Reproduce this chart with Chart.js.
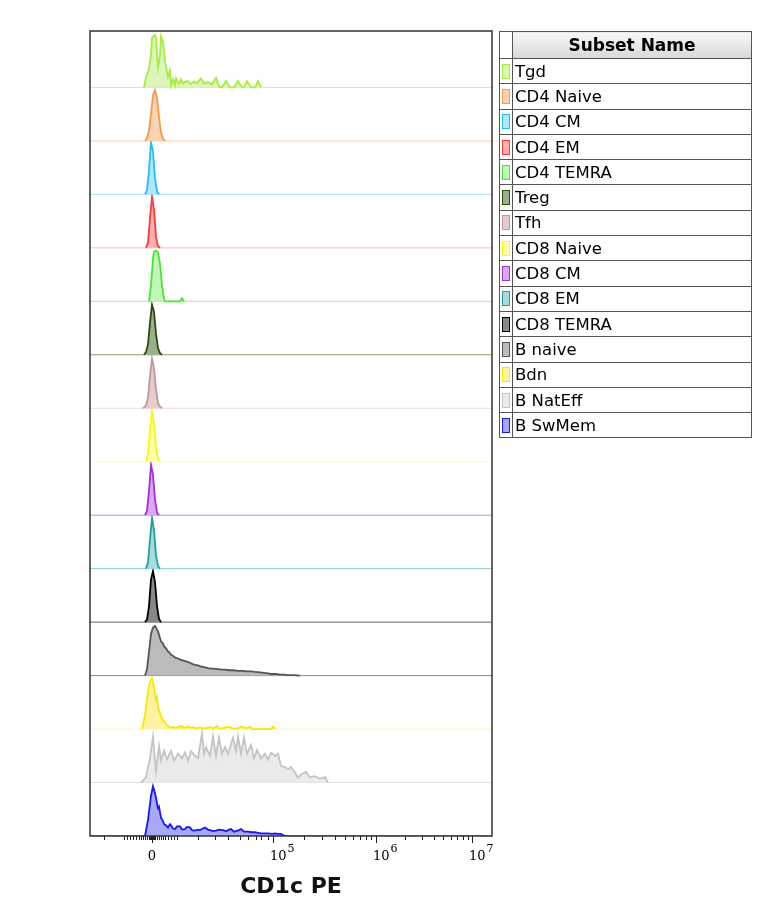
<!DOCTYPE html>
<html>
<head>
<meta charset="utf-8">
<script src="https://cdn.jsdelivr.net/npm/chart.js@4.4.1/dist/chart.umd.min.js"></script>
<style>
  body { margin: 0; background: #fff; width: 768px; height: 910px; position: relative; overflow: hidden; font-family: "DejaVu Sans", Verdana, sans-serif; }
  #wrap { position: absolute; left: 0; top: 0; width: 500px; height: 910px; }
  table.legend { position: absolute; left: 499px; top: 31px; width: 253px; border-collapse: collapse; }
  table.legend td, table.legend th { border: 1px solid #555; padding: 0; }
  table.legend th { height: 26px; font-size: 17px; font-weight: bold; color: #000; background: linear-gradient(#f8f8f8, #d8d8d8); }
  table.legend th.blank { background: #fff; width: 12px; }
  table.legend td { height: 24.3px; font-size: 16.5px; color: #000; padding-left: 2px; white-space: nowrap; }
  table.legend td.sw { padding-left: 2px; width: 10px; }
  .swatch { width: 6px; height: 13px; border: 1px solid #333; }
</style>
</head>
<body>
<div id="wrap"><canvas id="histChart" width="500" height="910"></canvas></div>
<table class="legend" id="legend">
  <tr><th class="blank"></th><th>Subset Name</th></tr>
</table>
<script>
// --- DATOS (eje x en unidades de display biexponencial, 0 = valor cero) ---
const subsetNames = ['Tgd', 'CD4 Naive', 'CD4 CM', 'CD4 EM', 'CD4 TEMRA', 'Treg', 'Tfh',
  'CD8 Naive', 'CD8 CM', 'CD8 EM', 'CD8 TEMRA', 'B naive', 'Bdn', 'B NatEff', 'B SwMem'];

const xTickValues = [0, 121, 224, 320];
const xTickBases = ['0', '10', '10', '10'];
const xTickExps = ['', '5', '6', '7'];
const xMinorTicks = [-48, -28, -25, -22, -19, -16, -13, -11, -9, -7, -5, -3, -2, -1, 1, 2, 3, 5, 7, 9, 11, 13, 16, 19, 22, 25,
  46, 63, 76, 88, 96, 104, 109, 116, 152, 170, 183, 193, 201, 208, 214, 219, 253, 270, 282, 291, 299, 305, 311, 316];

// histogramas: [posición, altura normalizada]
const tgd = [[-8,0],[-6,0.19],[-3,0.34],[-1,0.62],[0,0.93],[3,0.98],[4,0.93],[6,0.37],[8,0.6],[9,0.96],[11,0.85],[13,0.5],[14,0.4],[16,0.2],[18,0.32],[19,0.04],[21,0.16],[23,0.04],[24,0.17],[27,0.07],[29,0.15],[31,0.07],[33,0.1],[36,0.12],[39,0.06],[42,0.11],[45,0.08],[49,0.17],[52,0.07],[56,0.1],[60,0.06],[64,0.18],[67,0.02],[70,0],[74,0.12],[78,0],[82,0],[86,0.12],[90,0],[92,0],[95,0.12],[99,0],[103,0],[106,0.12],[109,0]];
const cd4Naive = [[-7,0],[-5,0.05],[-3,0.2],[-1,0.5],[1,0.85],[3,0.95],[5,0.8],[7,0.45],[9,0.15],[11,0.04],[13,0]];
const cd4CM = [[-7,0],[-5,0.08],[-3,0.45],[-1,0.97],[1,0.8],[3,0.3],[5,0.05],[7,0]];
const cd4EM = [[-6,0],[-4,0.1],[-2,0.55],[0,0.96],[2,0.7],[4,0.2],[6,0.03],[8,0]];
const cd4Temra = [[-3,0],[-1,0.3],[1,0.8],[2,0.93],[4,0.95],[6,0.92],[8,0.7],[10,0.3],[12,0.05],[13,0],[28,0],[30,0.06],[32,0]];
const treg = [[-8,0],[-6,0.05],[-4,0.2],[-2,0.6],[0,0.94],[2,0.8],[4,0.4],[6,0.12],[8,0.03],[10,0]];
const tfh = [[-9,0],[-6,0.05],[-4,0.2],[-2,0.6],[0,0.93],[2,0.75],[4,0.35],[6,0.1],[8,0.03],[10,0]];
const cd8Naive = [[-6,0],[-4,0.15],[-2,0.6],[0,0.95],[2,0.7],[4,0.25],[6,0.05],[8,0]];
const cd8CM = [[-7,0],[-5,0.08],[-3,0.45],[-1,0.94],[1,0.75],[3,0.3],[5,0.05],[7,0]];
const cd8EM = [[-6,0],[-4,0.12],[-2,0.55],[0,0.95],[2,0.72],[4,0.25],[6,0.05],[8,0]];
const cd8Temra = [[-7,0],[-5,0.05],[-3,0.3],[-1,0.8],[1,0.95],[3,0.75],[5,0.3],[7,0.06],[9,0]];
const bNaive = [[-7,0],[-5,0.12],[-3,0.45],[-1,0.78],[1,0.9],[3,0.93],[5,0.86],[6,0.83],[8,0.7],[9,0.64],[11,0.6],[12,0.55],[14,0.51],[16,0.45],[17,0.44],[19,0.39],[21,0.37],[22,0.35],[24,0.33],[26,0.32],[28,0.3],[30,0.29],[33,0.27],[35,0.26],[38,0.24],[40,0.22],[43,0.2],[46,0.19],[49,0.17],[52,0.16],[56,0.14],[59,0.13],[62,0.13],[66,0.12],[69,0.11],[73,0.11],[77,0.1],[81,0.1],[86,0.09],[90,0.09],[95,0.08],[99,0.08],[103,0.07],[108,0.06],[112,0.05],[116,0.04],[119,0.03],[124,0.03],[128,0.02],[132,0.02],[136,0.01],[142,0.01],[148,0]];
const bdn = [[-10,0],[-7,0.26],[-4,0.7],[-2,0.88],[0,0.95],[2,0.78],[4,0.55],[5,0.6],[6,0.4],[8,0.3],[9,0.25],[11,0.17],[13,0.12],[15,0.07],[17,0.05],[19,0.02],[21,0.04],[23,0.02],[26,0.03],[28,0.06],[30,0.03],[31,0.05],[33,0.02],[36,0.05],[38,0.02],[41,0.04],[44,0.01],[48,0.03],[52,0.01],[55,0.02],[58,0.04],[61,0.01],[63,0.03],[65,0.06],[67,0.01],[72,0.02],[75,0.04],[78,0.04],[80,0.01],[86,0.01],[89,0.04],[91,0.04],[94,0.01],[98,0.04],[100,0],[119,0],[121,0.05],[123,0]];
const bNatEff = [[-11,0],[-6,0.1],[-2,0.46],[1,0.86],[4,0.21],[7,0.68],[9,0.41],[12,0.59],[15,0.43],[19,0.59],[22,0.41],[26,0.54],[30,0.45],[33,0.56],[36,0.41],[39,0.59],[43,0.5],[46,0.46],[50,0.92],[52,0.54],[54,0.66],[58,0.5],[61,0.86],[64,0.5],[67,0.84],[70,0.54],[73,0.66],[76,0.54],[81,0.84],[84,0.59],[86,0.86],[89,0.54],[92,0.84],[95,0.54],[99,0.7],[102,0.45],[105,0.61],[109,0.45],[113,0.54],[116,0.43],[119,0.56],[123,0.5],[126,0.54],[129,0.31],[133,0.29],[136,0.25],[139,0.29],[143,0.19],[146,0.09],[149,0.15],[154,0.2],[158,0.1],[163,0.12],[168,0.07],[173,0.1],[176,0]];
const bSwMem = [[-7,0],[-4,0.3],[-1,0.75],[1,0.93],[3,0.8],[4,0.71],[6,0.52],[7,0.55],[9,0.34],[11,0.28],[12,0.22],[14,0.2],[16,0.16],[18,0.22],[19,0.2],[21,0.14],[23,0.13],[25,0.18],[28,0.18],[30,0.12],[33,0.13],[35,0.17],[38,0.16],[40,0.11],[43,0.1],[46,0.12],[48,0.11],[51,0.14],[53,0.16],[56,0.12],[58,0.11],[61,0.09],[64,0.1],[67,0.12],[71,0.11],[74,0.09],[77,0.12],[79,0.13],[82,0.08],[84,0.09],[87,0.11],[89,0.13],[92,0.08],[96,0.08],[100,0.07],[103,0.07],[106,0.06],[109,0.05],[113,0.05],[116,0.05],[120,0.04],[123,0.05],[126,0.04],[129,0.04],[131,0.02],[133,0]];

const histograms = [tgd, cd4Naive, cd4CM, cd4EM, cd4Temra, treg, tfh, cd8Naive, cd8CM, cd8EM, cd8Temra, bNaive, bdn, bNatEff, bSwMem];

// colores: contorno, relleno, línea base
const lineColors = ['#a8ec40', '#f59a4a', '#22c0f0', '#ff3838', '#44e830', '#2a4a10', '#c09898', '#f8f810', '#a030e0', '#20a0a0', '#000000', '#555555', '#f8e800', '#c4c4c4', '#1818f0'];
const fillColors = ['#dcf5b8', '#fbd3b0', '#b0e6fa', '#ffb0b0', '#c4f5b8', '#9ab08a', '#e6cccc', '#ffffa8', '#dca8f0', '#a8dcdc', '#888888', '#bbbbbb', '#fff2a0', '#ebebeb', '#a8a8f8'];
const baseColors = ['#d0f0a8', '#fbc8a8', '#a8e4f5', '#ffb8b8', '#a8f098', '#8aa070', '#ecd6d8', '#ffffb0', '#c890e0', '#88cccc', '#666666', '#888888', '#fff2b0', '#e0e0e0', '#333333'];

const X_MIN = -62, X_MAX = 340;
const nRows = subsetNames.length;

// --- LEYENDA (tabla) ---
const legend = document.getElementById('legend');
subsetNames.forEach((name, i) => {
  const tr = document.createElement('tr');
  tr.innerHTML = `<td class="sw"><div class="swatch" style="background:${fillColors[i]};border-color:${lineColors[i]}"></div></td><td>${name}</td>`;
  legend.appendChild(tr);
});

// --- DATASETS ---
const datasets = [];
histograms.forEach((pts, i) => {
  const base = nRows - 1 - i;
  datasets.push({
    data: [{ x: X_MIN, y: base }, { x: X_MAX, y: base }],
    borderColor: baseColors[i], borderWidth: 1, pointRadius: 0, fill: false, order: 2
  });
  datasets.push({
    data: pts.map(([v, h]) => ({ x: v, y: base + h })),
    borderColor: lineColors[i], backgroundColor: fillColors[i], borderWidth: 1.8,
    pointRadius: 0, tension: 0, fill: { value: base }, order: 1
  });
});

// marco, ticks menores y etiquetas 10^n con superíndice
const framePlugin = {
  id: 'frame',
  afterDraw(chart) {
    const { ctx, chartArea: a, scales: { x } } = chart;
    ctx.save();
    ctx.strokeStyle = '#222';
    ctx.lineWidth = 1;
    xMinorTicks.forEach(v => {
      const px = Math.round(x.getPixelForValue(v)) + 0.5;
      ctx.beginPath(); ctx.moveTo(px, a.bottom); ctx.lineTo(px, a.bottom + 4); ctx.stroke();
    });
    ctx.strokeStyle = '#333';
    ctx.lineWidth = 1.5;
    ctx.strokeRect(a.left, a.top, a.right - a.left, a.bottom - a.top);

    ctx.fillStyle = '#000';
    ctx.textBaseline = 'alphabetic';
    xTickValues.forEach((v, i) => {
      const px = x.getPixelForValue(v);
      ctx.font = '13px "DejaVu Serif", serif';
      if (!xTickExps[i]) {
        ctx.textAlign = 'center';
        ctx.fillText(xTickBases[i], px, a.bottom + 24);
      } else {
        ctx.textAlign = 'left';
        const w = ctx.measureText(xTickBases[i]).width;
        ctx.fillText(xTickBases[i], px - 3, a.bottom + 24);
        ctx.font = '11px "DejaVu Serif", serif';
        ctx.fillText(xTickExps[i], px - 3 + w + 1, a.bottom + 16);
      }
    });
    ctx.restore();
  }
};

new Chart(document.getElementById('histChart'), {
  type: 'line',
  data: { datasets },
  options: {
    responsive: false,
    animation: false,
    devicePixelRatio: 1,
    layout: { padding: { left: 90, top: 31, right: 8, bottom: 10 } },
    plugins: { legend: { display: false }, tooltip: { enabled: false } },
    scales: {
      x: {
        type: 'linear', min: X_MIN, max: X_MAX,
        afterBuildTicks: (axis) => { axis.ticks = xTickValues.map(v => ({ value: v })); },
        ticks: {
          autoSkip: false, maxRotation: 0, padding: 2, color: 'rgba(0,0,0,0)',
          font: { family: '"DejaVu Serif", serif', size: 13 },
          callback: (v, i) => xTickBases[i] + xTickExps[i]
        },
        grid: { display: true, drawOnChartArea: false, tickLength: 7, tickColor: '#222' },
        border: { display: false },
        title: { display: true, text: 'CD1c PE', color: '#111', font: { family: '"DejaVu Sans", Verdana, sans-serif', size: 22, weight: 'bold' }, padding: { top: 11, bottom: 0 } }
      },
      y: { type: 'linear', display: false, min: 0, max: nRows + 0.056 }
    }
  },
  plugins: [framePlugin]
});
</script>
</body>
</html>
